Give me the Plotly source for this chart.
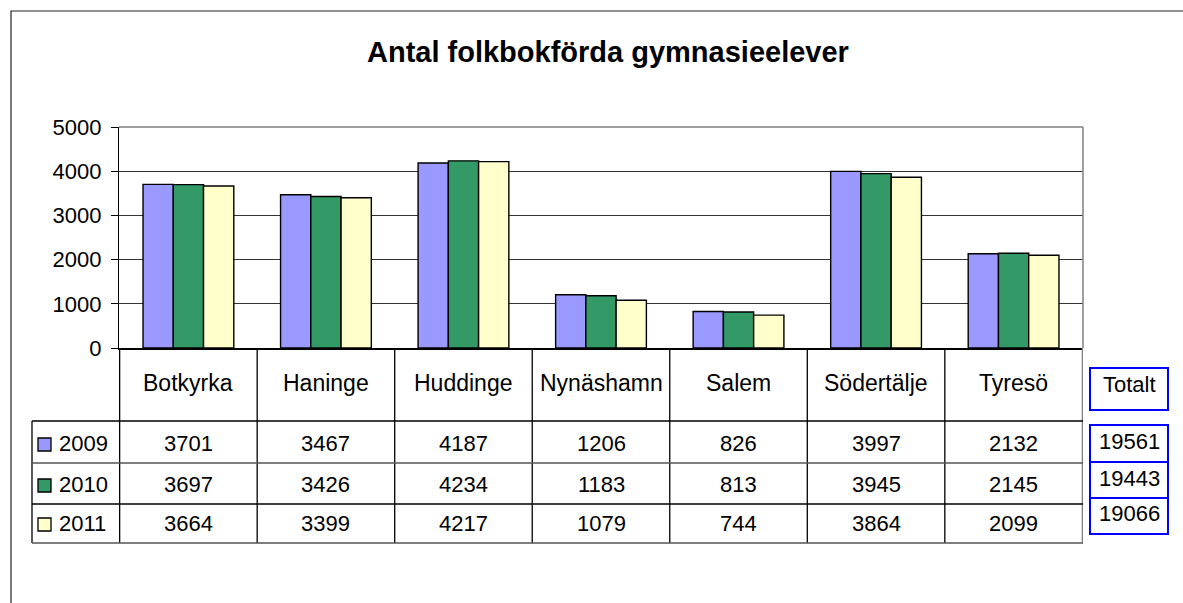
import plotly.graph_objects as go

# ---- data ----
categories = ["Botkyrka", "Haninge", "Huddinge", "Nynäshamn", "Salem", "Södertälje", "Tyresö"]
years = ["2009", "2010", "2011"]
values_2009 = [3701, 3467, 4187, 1206, 826, 3997, 2132]
values_2010 = [3697, 3426, 4234, 1183, 813, 3945, 2145]
values_2011 = [3664, 3399, 4217, 1079, 744, 3864, 2099]
totals_label = "Totalt"
totals = ["19561", "19443", "19066"]
title_text = "Antal folkbokförda gymnasieelever"

series = [values_2009, values_2010, values_2011]
colors = ["#9999FF", "#339966", "#FFFFCC"]

W, H = 1183, 603
FONT = "Liberation Sans, Arial, sans-serif"
TFS = 22  # table font size

def px(x):
    return x / W

def py(y):
    return 1 - y / H

# plot area in pixels
PL, PR, PT, PB = 119, 1083, 127, 348

fig = go.Figure()
for yr, vals, col in zip(years, series, colors):
    fig.add_trace(go.Bar(
        x=categories, y=vals, name=yr,
        marker=dict(color=col, line=dict(color="black", width=1.4)),
        showlegend=False, hoverinfo="x+y+name",
    ))

shapes = []
annotations = []

# outer border
shapes.append(dict(type="rect", xref="paper", yref="paper",
                   x0=px(11), x1=px(1200), y0=py(620), y1=py(11),
                   line=dict(color="#222222", width=1.2), layer="below"))

# plot area top / right gray border
shapes.append(dict(type="line", xref="paper", yref="paper",
                   x0=px(PL), x1=px(PR), y0=py(PT), y1=py(PT),
                   line=dict(color="#808080", width=1.5), layer="above"))
shapes.append(dict(type="line", xref="paper", yref="paper",
                   x0=px(PR), x1=px(PR), y0=py(PT), y1=py(PB),
                   line=dict(color="#808080", width=1.5), layer="above"))

# table geometry (pixels)
T_HEAD_BOT = 421
ROW_LINES = [421, 463, 504, 543]
ROW_CENTERS = [443, 484, 523]
T_LEFT = 32
HEAD_Y = 383

n = len(categories)
for k in range(n + 1):
    shapes.append(dict(type="line", xref="x", yref="paper",
                       x0=k - 0.5, x1=k - 0.5, y0=py(PB), y1=py(ROW_LINES[-1]),
                       line=dict(color="#808080" if k == n else "black", width=1.3)))
shapes.append(dict(type="line", xref="paper", yref="paper",
                   x0=px(T_LEFT), x1=px(T_LEFT), y0=py(T_HEAD_BOT), y1=py(ROW_LINES[-1]),
                   line=dict(color="black", width=1.3)))
for i, yl in enumerate(ROW_LINES):
    shapes.append(dict(type="line", xref="paper", yref="paper",
                       x0=px(T_LEFT), x1=px(PR), y0=py(yl), y1=py(yl),
                       line=dict(color="#555555" if i in (1, 3) else "black", width=1.3)))

for c in categories:
    annotations.append(dict(x=c, y=py(HEAD_Y), xref="x", yref="paper", text=c,
                            showarrow=False, font=dict(size=TFS + 1, color="black", family=FONT),
                            xanchor="center", yanchor="middle"))

for r, (yr, vals, col) in enumerate(zip(years, series, colors)):
    yc = ROW_CENTERS[r]
    shapes.append(dict(type="rect", xref="paper", yref="paper",
                       x0=px(38), x1=px(51), y0=py(yc + 8), y1=py(yc - 5),
                       fillcolor=col, line=dict(color="black", width=1.3)))
    annotations.append(dict(x=px(57), y=py(yc), xref="paper", yref="paper", text=yr,
                            showarrow=False, font=dict(size=TFS, color="black", family=FONT),
                            xanchor="left", yanchor="middle"))
    for c, v in zip(categories, vals):
        annotations.append(dict(x=c, y=py(yc), xref="x", yref="paper", text=str(v),
                                showarrow=False, font=dict(size=TFS, color="black", family=FONT),
                                xanchor="center", yanchor="middle"))

BX0, BX1 = 1090, 1168
shapes.append(dict(type="rect", xref="paper", yref="paper",
                   x0=px(BX0), x1=px(BX1), y0=py(410), y1=py(368),
                   line=dict(color="#0000FF", width=2)))
annotations.append(dict(x=px((BX0 + BX1) / 2), y=py(384), xref="paper", yref="paper",
                        text=totals_label, showarrow=False,
                        font=dict(size=TFS, color="black", family=FONT),
                        xanchor="center", yanchor="middle"))
box_edges = [425, 462, 498, 534]
text_centers = [441, 478, 513]
for i, t in enumerate(totals):
    shapes.append(dict(type="rect", xref="paper", yref="paper",
                       x0=px(BX0), x1=px(BX1), y0=py(box_edges[i + 1]), y1=py(box_edges[i]),
                       line=dict(color="#0000FF", width=2)))
    annotations.append(dict(x=px((BX0 + BX1) / 2), y=py(text_centers[i]), xref="paper", yref="paper",
                            text=t, showarrow=False,
                            font=dict(size=TFS, color="black", family=FONT),
                            xanchor="center", yanchor="middle"))

annotations.append(dict(x=px(608), y=py(52), xref="paper", yref="paper",
                        text="<b>" + title_text + "</b>", showarrow=False,
                        font=dict(size=29, color="black", family=FONT),
                        xanchor="center", yanchor="middle"))

fig.update_layout(
    template="none",
    width=W, height=H, autosize=False,
    margin=dict(l=0, r=0, t=0, b=0, pad=0, autoexpand=False),
    paper_bgcolor="white", plot_bgcolor="white",
    barmode="group", bargap=0.34, bargroupgap=0,
    xaxis=dict(domain=[px(PL), px(PR)], showticklabels=False, ticks="",
               showgrid=False, showline=True, linecolor="black", linewidth=2,
               zeroline=False, fixedrange=True, automargin=False),
    yaxis=dict(domain=[py(PB), py(PT)], range=[0, 5000], dtick=1000,
               showgrid=True, gridcolor="#333333", gridwidth=1,
               showline=True, linecolor="black", linewidth=1.3,
               ticks="outside", ticklen=7, tickcolor="black", tickwidth=1.3,
               ticklabelstandoff=5,
               tickfont=dict(size=TFS, color="black", family=FONT),
               zeroline=False, fixedrange=True, automargin=False),
    shapes=shapes, annotations=annotations,
    font=dict(family=FONT, color="black"),
)

fig.write_html(
    "out.html",
    config={"displayModeBar": False, "responsive": False},
    post_script="document.body.style.margin='0';document.body.style.padding='0';document.body.style.overflow='hidden';",
)
